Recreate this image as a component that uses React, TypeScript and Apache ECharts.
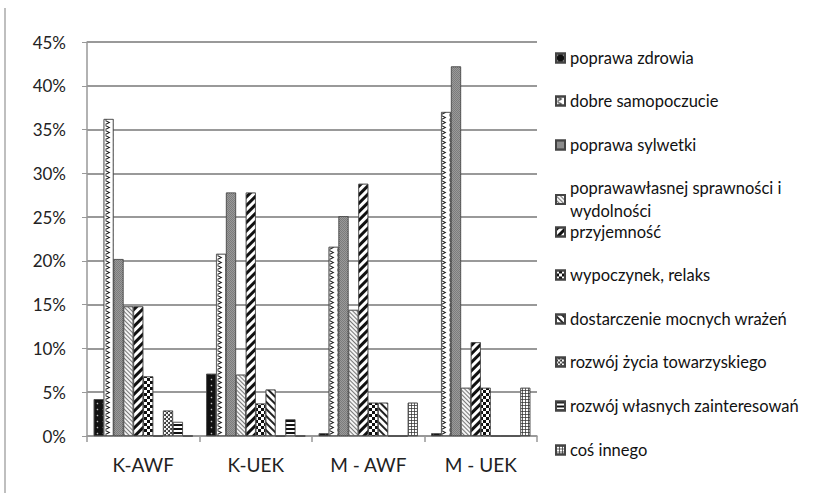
import React, { useEffect, useRef } from "react";
import * as echarts from "echarts";

const categories = ["K-AWF", "K-UEK", "M - AWF", "M - UEK"];
const seriesNames = [
  "poprawa zdrowia",
  "dobre samopoczucie",
  "poprawa sylwetki",
  "poprawawłasnej sprawności i wydolności",
  "przyjemność",
  "wypoczynek, relaks",
  "dostarczenie mocnych wrażeń",
  "rozwój życia towarzyskiego",
  "rozwój własnych zainteresowań",
  "coś innego",
];
const poprawaZdrowia = [4.2, 7.1, 0.3, 0.3];
const dobreSamopoczucie = [36.2, 20.8, 21.6, 37.0];
const poprawaSylwetki = [20.2, 27.8, 25.1, 42.2];
const sprawnosc = [14.8, 7.0, 14.4, 5.5];
const przyjemnosc = [14.8, 27.8, 28.8, 10.7];
const wypoczynek = [6.8, 3.7, 3.8, 5.5];
const wrazenia = [0, 5.3, 3.8, 0];
const zycieTowarzyskie = [2.9, 0, 0, 0];
const zainteresowania = [1.6, 1.9, 0, 0];
const cosInnego = [0, 0, 3.8, 5.5];
const seriesValues = [
  poprawaZdrowia,
  dobreSamopoczucie,
  poprawaSylwetki,
  sprawnosc,
  przyjemnosc,
  wypoczynek,
  wrazenia,
  zycieTowarzyskie,
  zainteresowania,
  cosInnego,
];
const yMin = 0;
const yMax = 45;
const yStep = 5;

const FONT = "Lato, 'Open Sans', sans-serif";

const styles: any[] = [
  { color: "#111", decal: { symbol: "circle", symbolSize: 0.5, color: "#bbb", dashArrayX: [[3, 3]], dashArrayY: [3, 3] } },
  { color: "#fff", decal: { symbol: "path://M0,0L6,3L0,6L0,4.6L3.4,3L0,1.4Z", symbolSize: 1, color: "#222", dashArrayX: [[8, 0]], dashArrayY: [5, 0] } },
  { color: "#7c7c7c", decal: { symbol: "rect", symbolSize: 1, color: "#9a9a9a", dashArrayX: [[1, 1], [0, 1, 1, 0]], dashArrayY: [1, 0] } },
  { color: "#f4f4f4", decal: { symbol: "rect", symbolSize: 1, color: "#777", dashArrayX: [1, 0], dashArrayY: [1, 1.8], rotation: Math.PI / 4 } },
  { color: "#fff", decal: { symbol: "rect", symbolSize: 1, color: "#111", dashArrayX: [1, 0], dashArrayY: [2.2, 2.2], rotation: -Math.PI / 4 } },
  { color: "#fff", decal: { symbol: "rect", symbolSize: 1, color: "#111", dashArrayX: [[3, 3], [0, 3, 3, 0]], dashArrayY: [3, 0] } },
  { color: "#fff", decal: { symbol: "rect", symbolSize: 1, color: "#222", dashArrayX: [1, 0], dashArrayY: [1.6, 2.4], rotation: Math.PI / 4 } },
  { color: "#fff", decal: { symbol: "circle", symbolSize: 1, color: "#222", dashArrayX: [[2, 2], [0, 2, 2, 0]], dashArrayY: [2, 0] } },
  { color: "#fff", decal: { symbol: "rect", symbolSize: 1, color: "#111", dashArrayX: [1, 0], dashArrayY: [1.5, 1.5] } },
  { color: "#fff", decal: { symbol: "path://M0,0H4V1H1V4H0Z", symbolSize: 1, color: "#333", dashArrayX: [[3, 0]], dashArrayY: [3, 0] } },
];

const legendCenters = [58, 101, 145, 188, 232, 275, 319, 362, 406, 450];

export default function App() {
  const ref = useRef<HTMLDivElement>(null);
  useEffect(() => {
    document.body.style.margin = "0";
    if (!ref.current) return;
    const chart = echarts.init(ref.current, null, { renderer: "svg" });
    const series = seriesNames.map((name, i) => ({
      name,
      type: "bar",
      data: seriesValues[i],
      barGap: "0%",
      barCategoryGap: "12%",
      itemStyle: {
        color: styles[i].color,
        decal: styles[i].decal,
        borderColor: "#444",
        borderWidth: 0.6,
      },
    }));
    const legends = seriesNames.map((name, i) => ({
      data: [name],
      left: 555,
      top: legendCenters[i] - 11.5,
      padding: 0,
      itemWidth: 9,
      itemHeight: 9,
      icon: "rect",
      selectedMode: false,
      textStyle: {
        fontFamily: FONT,
        fontSize: 16.5,
        color: "#111",
        lineHeight: 23,
      },
      formatter: (n: string) =>
        n === "poprawawłasnej sprawności i wydolności"
          ? "poprawawłasnej sprawności i\nwydolności"
          : n,
    }));
    chart.setOption({
      animation: false,
      backgroundColor: "#fff",
      legend: legends,
      grid: { left: 87, right: 278, top: 42, bottom: 57 },
      graphic: [
        {
          type: "line",
          shape: { x1: 5, y1: 8, x2: 5, y2: 493 },
          style: { stroke: "#aaa", lineWidth: 1.5 },
        },
      ],
      xAxis: {
        type: "category",
        data: categories,
        axisLine: { lineStyle: { color: "#999", width: 1.5 } },
        axisTick: { show: true, length: 6, lineStyle: { color: "#999", width: 1.5 } },
        axisLabel: { fontFamily: FONT, fontSize: 19, color: "#222", margin: 19 },
      },
      yAxis: {
        type: "value",
        min: yMin,
        max: yMax,
        interval: yStep,
        axisLine: { show: true, lineStyle: { color: "#999", width: 1.5 } },
        axisTick: { show: true, length: 5, lineStyle: { color: "#999" } },
        axisLabel: {
          formatter: "{value}%",
          fontFamily: FONT,
          fontSize: 17,
          color: "#222",
          margin: 21,
        },
        splitLine: { lineStyle: { color: "#999", width: 1.8 } },
      },
      series,
    });
    return () => chart.dispose();
  }, []);
  return <div ref={ref} style={{ width: 815, height: 493 }} />;
}
